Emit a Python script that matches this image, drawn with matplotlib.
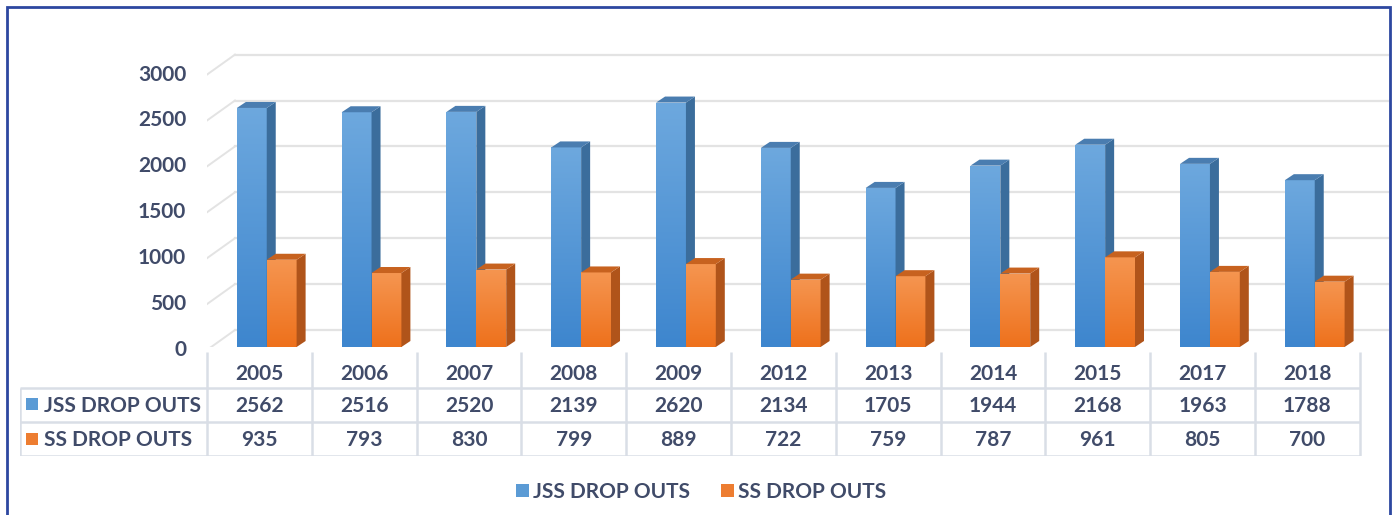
import matplotlib.pyplot as plt
from matplotlib.patches import Rectangle, Polygon
from matplotlib.colors import LinearSegmentedColormap
import numpy as np

years = ["2005", "2006", "2007", "2008", "2009", "2012", "2013", "2014", "2015", "2017", "2018"]
jss = [2562, 2516, 2520, 2139, 2620, 2134, 1705, 1944, 2168, 1963, 1788]
ss = [935, 793, 830, 799, 889, 722, 759, 787, 961, 805, 700]
series_names = ["JSS DROP OUTS", "SS DROP OUTS"]
yticks = [0, 500, 1000, 1500, 2000, 2500, 3000]

W, H = 1394, 515
txt_col = "#404B69"
grid_col = "#E3E3E3"
line_col = "#D9DEE6"
font = "Lato"

# colours: front light/dark, side, top
blue = dict(light="#6DA8DE", dark="#3E86CE", side="#3B6D9C", top="#4A7DB0", key="#5B9BD5")
orange = dict(light="#F59550", dark="#EE711C", side="#B0541A", top="#C7621F", key="#ED7D31")

fig = plt.figure(figsize=(W / 100, H / 100), dpi=100)

# pixel geometry of the plot area
x0px, catpx = 207, 104.8
base_px, ypx = 347, 0.0933  # pixel of zero, pixels per unit (bars)
front_px, fpx = 350, 0.0918  # zero pixel and scale for the front wall / labels
right_px, top_px = 1390, 40

ax = fig.add_axes([x0px / W, (H - base_px) / H, (right_px - x0px) / W, (base_px - top_px) / H])
ax.set_xlim(0, (right_px - x0px) / catpx)
ax.set_ylim(0, (base_px - top_px) / ypx)
ax.axis("off")

n = len(years)
bdx, bdy = 28 / catpx, 20 / ypx     # back wall offset
ddx, ddy = 9 / catpx, 6 / ypx       # bar depth


def wall(v):
    # front-wall level of a tick value, in bar data units
    return (v * fpx - (front_px - base_px)) / ypx


# gridlines on back wall + left wall diagonals
for v in yticks:
    yf = wall(v)
    ax.plot([bdx, n + bdx], [yf + bdy, yf + bdy], color=grid_col, lw=1.6, zorder=1)
    ax.plot([0, bdx], [yf, yf + bdy], color=grid_col, lw=1.4, zorder=1)
    ax.text(-0.2, yf, str(v), ha="right", va="center", fontsize=15, fontweight="bold",
            color=txt_col, family=font, clip_on=False)


def bar3d(x, w, v, c):
    front = Rectangle((x, 0), w, v, facecolor="none", edgecolor="none", zorder=3)
    ax.add_patch(front)
    grad = np.linspace(0, 1, 64).reshape(-1, 1)
    cm = LinearSegmentedColormap.from_list("g", [c["dark"], c["light"]])
    im = ax.imshow(grad, extent=(x, x + w, 0, v), origin="lower", cmap=cm,
                   aspect="auto", zorder=3, interpolation="bicubic")
    im.set_clip_path(front)
    side = Polygon([(x + w, 0), (x + w + ddx, ddy), (x + w + ddx, v + ddy), (x + w, v)],
                   closed=True, facecolor=c["side"], edgecolor="none", zorder=3)
    top = Polygon([(x, v), (x + ddx, v + ddy), (x + w + ddx, v + ddy), (x + w, v)],
                  closed=True, facecolor=c["top"], edgecolor="none", zorder=3)
    ax.add_patch(side)
    ax.add_patch(top)


bw = 0.285
for i in range(n):
    bar3d(i + 0.285, bw, jss[i], blue)
    bar3d(i + 0.285 + bw, bw, ss[i], orange)

ax.set_xlim(0, (right_px - x0px) / catpx)
ax.set_ylim(0, (base_px - top_px) / ypx)

# data table
tl_px, tt_px, tb_px = 20, 352, 456
tax = fig.add_axes([tl_px / W, (H - tb_px) / H, (right_px - tl_px) / W, (tb_px - tt_px) / H])
left = -(x0px - tl_px) / catpx
tax.set_xlim(left, (right_px - x0px) / catpx)
tax.set_ylim(0, 3)
tax.axis("off")
lw = 1.8
for yy in [0, 0.98, 1.95]:
    tax.plot([left, n], [yy, yy], color=line_col, lw=lw, solid_capstyle="butt")
for xx in range(n + 1):
    tax.plot([xx, xx], [0, 3], color=line_col, lw=lw, solid_capstyle="butt")
tax.plot([left, left], [0, 1.95], color=line_col, lw=lw, solid_capstyle="butt")

for i in range(n):
    tax.text(i + 0.5, 2.36, years[i], ha="center", va="center", fontsize=15,
             fontweight="bold", color=txt_col, family=font)
    tax.text(i + 0.5, 1.45, str(jss[i]), ha="center", va="center", fontsize=15,
             fontweight="bold", color=txt_col, family=font)
    tax.text(i + 0.5, 0.45, str(ss[i]), ha="center", va="center", fontsize=15,
             fontweight="bold", color=txt_col, family=font)

for r, (name, c) in enumerate(zip(series_names, [blue, orange])):
    yc = 1.5 - r
    kx = left + 6 / catpx
    ks = 12 / catpx
    kh = 12 / ((tb_px - tt_px) / 3)
    tax.add_patch(Rectangle((kx, yc - kh / 2), ks, kh, facecolor=c["key"], edgecolor="none"))
    tax.text(left + 24 / catpx, yc - 0.05, name, ha="left", va="center", fontsize=15,
             fontweight="bold", color=txt_col, family=font)

# bottom legend
handles = [Rectangle((0, 0), 1, 1, facecolor=c["key"], edgecolor="none") for c in [blue, orange]]
fig.legend(handles, series_names, loc="center", bbox_to_anchor=(0.503, (H - 492) / H), ncol=2,
           frameon=False, handlelength=0.62, handleheight=0.62, handletextpad=0.2,
           columnspacing=1.5, prop=dict(family=font, weight="bold", size=15),
           labelcolor=txt_col)

# outer border
fig.patches.append(Rectangle((7 / W, -0.05), (right_px - 7) / W, (H - 7) / H + 0.05,
                             transform=fig.transFigure, facecolor="none",
                             edgecolor="#2D47A0", lw=2.0))

fig.savefig("out.png", dpi=100)
